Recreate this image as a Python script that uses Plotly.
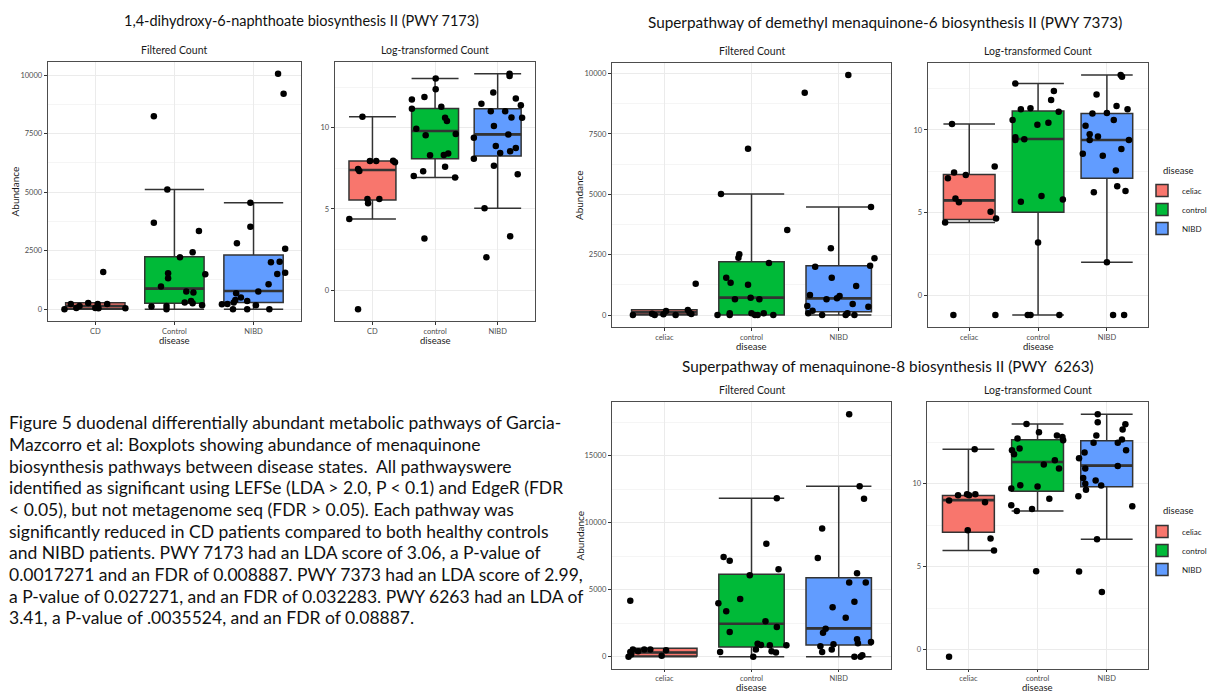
import plotly.graph_objects as go

W, H = 1212, 692
FILL = ["#F8766D", "#00BA38", "#619CFF"]
EDGE = "#333333"
FONT = "Lato"

# ---------------- data ----------------
cats_7173_filtered = ["CD", "Control", "NIBD"]
cats_7173_log = ["CD", "control", "NIBD"]
cats_celiac = ["celiac", "control", "NIBD"]

# PWY 7173 - Filtered Count
A_CD = [0, 226, 55, 140, 268, 55, 226, 40, 1590, 226, 40]
A_CD_jit = [-0.39, -0.31, -0.24, -0.20, -0.09, 0.00, 0.03, 0.04, 0.10, 0.15, 0.38]
A_Control = [8236, 5112, 3692, 3337, 2428, 2215, 1534, 1320, 966, 1491, 753, 710, 284, 355, 256, 170, 114, 142, 0]
A_Control_jit = [-0.26, -0.09, -0.26, 0.31, 0.23, 0.07, -0.08, -0.08, -0.17, 0.39, 0.15, 0.24, 0.13, 0.21, 0.23, 0.35, -0.29, -0.10, -0.10]
A_NIBD = [10054, 9202, 4544, 3522, 2812, 2584, 2031, 2002, 1505, 1562, 1065, 753, 682, 497, 398, 355, 284, 227, 213, 170, 0, 0, 0]
A_NIBD_jit = [0.31, 0.38, -0.04, -0.04, -0.21, 0.40, 0.33, 0.22, 0.30, 0.40, 0.19, 0.06, -0.22, -0.16, -0.23, -0.08, -0.25, -0.33, -0.40, 0.03, -0.08, -0.26, 0.20]
A_q1 = [30, 256, 284]
A_median = [140, 880, 781]
A_q3 = [280, 2244, 2315]
A_lower = [0, 0, 0]
A_upper = [268, 5112, 4544]

# PWY 7173 - Log-transformed Count
B_CD = [10.68, 7.95, 7.95, 7.97, 7.87, 7.46, 7.34, 5.61, 5.61, 5.35, 4.39, -1.17]
B_CD_jit = [-0.16, -0.04, 0.06, 0.33, 0.36, -0.23, -0.21, -0.08, 0.11, -0.07, -0.37, -0.23]
B_control = [13.03, 12.36, 11.74, 11.89, 11.17, 11.29, 10.61, 10.41, 9.94, 9.61, 9.53, 8.30, 8.32, 8.42, 7.60, 7.32, 7.03, 6.93, 3.18]
B_control_jit = [0.01, 0.01, -0.37, -0.17, -0.37, 0.10, 0.16, 0.19, -0.30, 0.33, -0.15, -0.08, 0.14, 0.21, 0.16, -0.19, -0.34, 0.32, -0.17]
B_NIBD = [13.32, 13.18, 12.17, 11.80, 11.39, 11.48, 11.02, 11.02, 10.63, 10.61, 10.10, 9.39, 9.59, 8.87, 8.44, 8.55, 8.75, 8.09, 7.66, 7.13, 5.04, 3.32, 2.03]
B_NIBD_jit = [0.19, 0.19, -0.07, 0.29, 0.37, -0.26, -0.11, 0.12, 0.22, 0.39, -0.06, -0.38, 0.17, -0.03, 0.04, 0.20, 0.29, -0.38, -0.06, 0.32, -0.21, 0.20, -0.18]
B_q1 = [5.55, 8.09, 8.26]
B_median = [7.40, 9.80, 9.59]
B_q3 = [7.95, 11.19, 11.17]
B_lower = [4.39, 6.93, 5.04]
B_upper = [10.68, 13.03, 13.32]

# PWY 7373 - Filtered Count
C_celiac = [0, 55, 0, 28, 166, 0, 207, 97, 41, 1298]
C_celiac_jit = [-0.36, -0.14, -0.11, -0.01, 0.02, 0.13, 0.27, 0.29, 0.31, 0.36]
C_control = [6891, 5013, 3522, 2375, 2513, 2154, 1547, 1340, 1257, 649, 718, 649, 0, 69, 0, 69, 0, 0, 69, 0]
C_control_jit = [-0.04, -0.35, 0.41, -0.15, -0.14, 0.20, -0.29, -0.24, -0.04, -0.19, -0.01, 0.09, -0.39, -0.25, -0.25, 0.00, 0.04, 0.07, 0.14, 0.25]
C_NIBD = [9943, 9211, 4474, 2348, 2762, 2002, 2044, 1547, 1201, 828, 649, 690, 787, 456, 345, 373, 180, 69, 0, 69, 0, 0]
C_NIBD_jit = [0.11, -0.39, 0.37, 0.41, -0.09, -0.27, 0.36, -0.08, 0.20, -0.33, -0.14, -0.02, 0.01, 0.16, 0.34, -0.36, -0.30, -0.35, -0.19, 0.10, 0.08, 0.18]
C_q1 = [10, 0, 138]
C_median = [110, 718, 690]
C_q3 = [215, 2210, 2044]
C_lower = [0, 0, 0]
C_upper = [215, 5013, 4474]

# PWY 7373 - Log-transformed Count
D_celiac = [10.36, 7.44, 7.08, 7.28, 7.79, 5.87, 5.63, 5.07, 4.65, 4.42, -1.17, -1.17]
D_celiac_jit = [-0.25, -0.22, -0.31, -0.05, 0.37, -0.20, -0.15, 0.31, 0.39, -0.35, -0.23, 0.38]
D_control = [12.80, 12.35, 11.81, 11.25, 11.31, 11.10, 10.60, 10.32, 10.44, 9.56, 9.40, 9.44, 5.67, 6.02, 5.81, 3.20, -1.17, -1.17, -1.17]
D_control_jit = [-0.33, 0.23, 0.19, -0.25, -0.11, 0.30, -0.37, -0.01, 0.15, -0.33, -0.33, -0.20, -0.25, 0.05, 0.36, 0.00, -0.15, -0.11, 0.31]
D_NIBD = [13.32, 13.22, 12.15, 11.45, 11.25, 10.99, 11.03, 10.60, 10.26, 9.74, 9.60, 9.40, 9.40, 8.85, 8.57, 8.45, 7.55, 6.60, 6.24, 6.32, 2.01, -1.17, -1.17]
D_NIBD_jit = [0.20, 0.22, -0.15, 0.14, 0.30, -0.21, 0.00, 0.10, -0.31, -0.25, -0.13, -0.25, 0.32, 0.21, -0.35, -0.06, 0.13, 0.15, -0.19, 0.27, 0.00, 0.09, 0.25]
D_q1 = [4.60, 5.03, 7.08]
D_median = [5.75, 9.46, 9.40]
D_q3 = [7.32, 11.15, 10.99]
D_lower = [4.42, -1.17, 2.01]
D_upper = [10.36, 12.80, 13.32]

# PWY 6263 - Filtered Count
E_celiac = [4194, 543, 419, 543, 543, 493, 74, 0, 173, 370]
E_celiac_jit = [-0.39, -0.36, -0.30, -0.23, -0.16, 0.02, -0.03, -0.41, -0.38, -0.39]
E_control = [11842, 8437, 7450, 7179, 6538, 6093, 4317, 3996, 3404, 2664, 2220, 1850, 987, 888, 863, 863, 370, 543, 419, 321, 0]
E_control_jit = [0.29, 0.17, -0.32, -0.25, 0.31, -0.02, -0.13, -0.38, -0.29, 0.16, 0.29, -0.25, 0.07, 0.11, 0.21, 0.40, -0.36, 0.05, 0.23, 0.28, 0.02]
E_NIBD = [18108, 12730, 11792, 9572, 7376, 6241, 5551, 5551, 4120, 3700, 2911, 2097, 1801, 1307, 1011, 1110, 937, 789, 370, 543, 0, 0, 123]
E_NIBD_jit = [0.12, 0.24, 0.29, -0.19, -0.24, 0.21, 0.12, 0.31, 0.18, -0.07, 0.08, -0.15, -0.18, 0.21, 0.22, 0.37, -0.06, -0.21, -0.19, -0.08, 0.18, 0.25, 0.27]
E_q1 = [60, 740, 888]
E_median = [320, 2467, 2122]
E_q3 = [640, 6168, 5896]
E_lower = [0, 0, 0]
E_upper = [640, 11842, 12730]

# PWY 6263 - Log-transformed Count
F_celiac = [12.07, 9.30, 9.36, 9.30, 9.36, 8.98, 8.88, 7.19, 6.69, 5.96, -0.44]
F_celiac_jit = [0.09, -0.15, -0.02, 0.01, 0.10, -0.28, 0.24, -0.01, 0.32, 0.37, -0.28]
F_control = [13.59, 13.09, 12.71, 12.11, 12.89, 12.81, 12.61, 12.01, 11.77, 11.41, 11.14, 10.90, 9.90, 9.82, 9.70, 9.08, 8.69, 8.35, 8.47, 4.72]
F_control_jit = [-0.16, 0.02, -0.29, -0.26, 0.28, 0.36, 0.37, -0.37, -0.34, 0.25, 0.09, 0.31, -0.25, 0.00, -0.38, 0.17, -0.38, -0.30, -0.08, -0.02]
F_NIBD = [14.18, 13.69, 13.57, 13.25, 12.89, 12.65, 12.45, 12.45, 12.01, 11.87, 11.53, 10.90, 11.06, 10.34, 10.18, 9.98, 9.88, 9.62, 9.24, 8.63, 6.65, 4.70, 3.47]
F_NIBD_jit = [-0.13, -0.13, 0.27, 0.23, -0.15, 0.22, -0.19, 0.16, 0.28, -0.32, -0.40, -0.31, 0.16, -0.34, -0.16, -0.31, -0.08, -0.30, -0.41, 0.37, -0.14, -0.40, -0.07]
F_q1 = [7.07, 9.54, 9.80]
F_median = [9.00, 11.30, 11.08]
F_q3 = [9.28, 12.63, 12.57]
F_lower = [5.96, 8.35, 6.65]
F_upper = [12.07, 13.59, 14.18]

titles = [
    "1,4-dihydroxy-6-naphthoate biosynthesis II (PWY 7173)",
    "Superpathway of demethyl menaquinone-6 biosynthesis II (PWY 7373)",
    "Superpathway of menaquinone-8 biosynthesis II (PWY  6263)",
]

caption_lines = [
    "Figure 5 duodenal differentially abundant metabolic pathways of Garcia-",
    "Mazcorro et al: Boxplots showing abundance of menaquinone",
    "biosynthesis pathways between disease states.  All pathwayswere",
    "identified as significant using LEFSe (LDA &gt; 2.0, P &lt; 0.1) and EdgeR (FDR",
    "&lt; 0.05), but not metagenome seq (FDR &gt; 0.05). Each pathway was",
    "significantly reduced in CD patients compared to both healthy controls",
    "and NIBD patients. PWY 7173 had an LDA score of 3.06, a P-value of",
    "0.0017271 and an FDR of 0.008887. PWY 7373 had an LDA score of 2.99,",
    "a P-value of 0.027271, and an FDR of 0.032283. PWY 6263 had an LDA of",
    "3.41, a P-value of .0035524, and an FDR of 0.08887.",
]

# ---------------- layout helpers ----------------
def px_x(x):
    return x / W


def px_y(y):
    return 1 - y / H


panels = [
    dict(rect=(48, 62, 302, 321), cats=cats_7173_filtered,
         groups=[(A_CD, A_CD_jit), (A_Control, A_Control_jit), (A_NIBD, A_NIBD_jit)],
         stats=(A_q1, A_median, A_q3, A_lower, A_upper), dtick=2500,
         sub="Filtered Count", ylab=True, legend=None, xlab_y=340, tl=3),
    dict(rect=(336, 62, 537, 321), cats=cats_7173_log,
         groups=[(B_CD, B_CD_jit), (B_control, B_control_jit), (B_NIBD, B_NIBD_jit)],
         stats=(B_q1, B_median, B_q3, B_lower, B_upper), dtick=5,
         sub="Log-transformed Count", ylab=False, legend=None, xlab_y=340, tl=3),
    dict(rect=(614, 63, 894, 327), cats=cats_celiac,
         groups=[(C_celiac, C_celiac_jit), (C_control, C_control_jit), (C_NIBD, C_NIBD_jit)],
         stats=(C_q1, C_median, C_q3, C_lower, C_upper), dtick=2500,
         sub="Filtered Count", ylab=True, legend=None, xlab_y=346, tl=3),
    dict(rect=(931, 63, 1152, 327), cats=cats_celiac,
         groups=[(D_celiac, D_celiac_jit), (D_control, D_control_jit), (D_NIBD, D_NIBD_jit)],
         stats=(D_q1, D_median, D_q3, D_lower, D_upper), dtick=5,
         sub="Log-transformed Count", ylab=False, legend="legend", xlab_y=346, tl=3),
    dict(rect=(614, 402, 894, 669), cats=cats_celiac,
         groups=[(E_celiac, E_celiac_jit), (E_control, E_control_jit), (E_NIBD, E_NIBD_jit)],
         stats=(E_q1, E_median, E_q3, E_lower, E_upper), dtick=5000,
         sub="Filtered Count", ylab=True, legend=None, xlab_y=687, tl=2),
    dict(rect=(930, 402, 1152, 669), cats=cats_celiac,
         groups=[(F_celiac, F_celiac_jit), (F_control, F_control_jit), (F_NIBD, F_NIBD_jit)],
         stats=(F_q1, F_median, F_q3, F_lower, F_upper), dtick=5,
         sub="Log-transformed Count", ylab=False, legend="legend2", xlab_y=687, tl=2),
]

BOX_W = 0.75

fig = go.Figure()
annotations = []
layout_axes = {}

for i, p in enumerate(panels, 1):
    xref = "x" if i == 1 else f"x{i}"
    yref = "y" if i == 1 else f"y{i}"
    q1, med, q3, lo, hi = p["stats"]
    allv = []
    for k, (vals, jit) in enumerate(p["groups"]):
        pos = k + 1
        allv += list(vals) + [lo[k], hi[k]]
        fig.add_trace(go.Box(
            x=[pos], q1=[q1[k]], median=[med[k]], q3=[q3[k]],
            lowerfence=[lo[k]], upperfence=[hi[k]],
            width=BOX_W, whiskerwidth=1, boxpoints=False,
            fillcolor=FILL[k], line=dict(color=EDGE, width=1.5),
            name=p["cats"][k], xaxis=xref, yaxis=yref,
            showlegend=p["legend"] is not None,
            legend=p["legend"] if p["legend"] else "legend",
            hoverinfo="skip",
        ))
        fig.add_trace(go.Scatter(
            x=[pos - BOX_W / 2, pos + BOX_W / 2], y=[med[k], med[k]],
            mode="lines", line=dict(color=EDGE, width=2.6),
            xaxis=xref, yaxis=yref, showlegend=False, hoverinfo="skip",
        ))
        fig.add_trace(go.Scatter(
            x=[pos + j for j in jit], y=vals, mode="markers",
            marker=dict(color="black", size=6.5),
            xaxis=xref, yaxis=yref, showlegend=False, hoverinfo="skip",
        ))
    vmin, vmax = min(allv), max(allv)
    span = vmax - vmin
    yr = [vmin - 0.05 * span, vmax + 0.05 * span]
    x0, y0, x1, y1 = p["rect"]
    axkey = "" if i == 1 else str(i)
    layout_axes[f"xaxis{axkey}"] = dict(
        domain=[px_x(x0), px_x(x1)], range=[0.4, 3.6], anchor=yref,
        tickmode="array", tickvals=[1, 2, 3], ticktext=p["cats"],
        showgrid=True, gridcolor="#EBEBEB", gridwidth=1, zeroline=False,
        showline=True, mirror=True, linecolor="#4D4D4D", linewidth=1.4,
        ticks="outside", ticklen=p["tl"], tickcolor="#333333", tickwidth=1,
        tickfont=dict(family=FONT, size=7.5, color="#4D4D4D"), fixedrange=True,
    )
    layout_axes[f"yaxis{axkey}"] = dict(
        domain=[px_y(y1), px_y(y0)], range=yr, anchor=xref,
        tick0=0, dtick=p["dtick"], tickformat="d",
        showgrid=True, gridcolor="#EBEBEB", gridwidth=1, zeroline=False,
        minor=dict(dtick=p["dtick"] / 2, tick0=0, showgrid=True,
                   gridcolor="#F5F5F5", gridwidth=0.6, ticks=""),
        showline=True, mirror=True, linecolor="#4D4D4D", linewidth=1.4,
        ticks="outside", ticklen=3, tickcolor="#333333", tickwidth=1,
        tickfont=dict(family=FONT, size=7.5, color="#4D4D4D"), fixedrange=True,
    )
    cx = (x0 + x1) / 2
    annotations.append(dict(
        text=p["sub"], x=px_x(cx), y=px_y(y0 - 12), xref="paper", yref="paper",
        showarrow=False, xanchor="center", yanchor="middle",
        font=dict(family=FONT, size=10.5, color="#1a1a1a"),
    ))
    annotations.append(dict(
        text="disease", x=px_x(cx), y=px_y(p["xlab_y"]), xref="paper", yref="paper",
        showarrow=False, xanchor="center", yanchor="middle",
        font=dict(family=FONT, size=9.5, color="#1a1a1a"),
    ))
    if p["ylab"]:
        annotations.append(dict(
            text="Abundance", x=px_x(x0 - 33), y=px_y((y0 + y1) / 2),
            xref="paper", yref="paper", showarrow=False, textangle=-90,
            xanchor="center", yanchor="middle",
            font=dict(family=FONT, size=10, color="#1a1a1a"),
        ))

# main titles
for t, (cx, cy), fs in zip(titles, [(302, 20), (888, 22), (891, 366)], [14.5, 15.3, 15.3]):
    annotations.append(dict(
        text=t, x=px_x(cx), y=px_y(cy), xref="paper", yref="paper",
        showarrow=False, xanchor="center", yanchor="middle",
        font=dict(family=FONT, size=fs, color="#111111"),
    ))

# legend titles
for ty in (170, 510):
    annotations.append(dict(
        text="disease", x=px_x(1165), y=px_y(ty), xref="paper", yref="paper",
        showarrow=False, xanchor="left", yanchor="middle",
        font=dict(family=FONT, size=9.5, color="#1a1a1a"),
    ))

# caption
for n, line in enumerate(caption_lines):
    annotations.append(dict(
        text=line, x=px_x(7), y=px_y(423 + n * 21.65), xref="paper", yref="paper",
        showarrow=False, xanchor="left", yanchor="middle",
        font=dict(family=FONT, size=17.5, color="#111111"),
    ))

legend_style = dict(
    xanchor="left", yanchor="top", bgcolor="rgba(0,0,0,0)",
    font=dict(family=FONT, size=8, color="#1a1a1a"),
    itemwidth=30, tracegroupgap=0,
)

fig.update_layout(
    width=W, height=H, margin=dict(l=0, r=0, t=0, b=0),
    paper_bgcolor="white", plot_bgcolor="white",
    showlegend=True,
    legend=dict(x=px_x(1146), y=px_y(176), **legend_style),
    legend2=dict(x=px_x(1146), y=px_y(517), **legend_style),
    annotations=annotations,
    **layout_axes,
)

fig.write_html("out.html")
